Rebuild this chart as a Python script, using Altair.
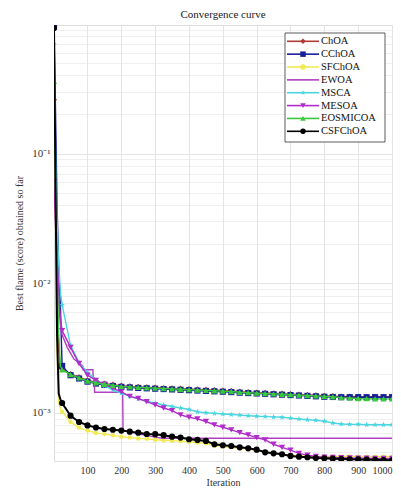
import altair as alt
import pandas as pd

NAMES = ["ChOA", "CChOA", "SFChOA", "EWOA", "MSCA", "MESOA", "EOSMICOA", "CSFChOA"]
COLORS = ["#B23A34", "#16209A", "#F2EA55", "#B040C0", "#4AD6E0", "#B22CCC", "#3CC83C", "#000000"]
STAR = "M0,-1L0.235,-0.324L0.951,-0.309L0.38,0.124L0.588,0.809L0,0.4L-0.588,0.809L-0.38,0.124L-0.951,-0.309L-0.235,-0.324Z"
SHAPES = ["diamond", "square", "circle", "circle", STAR, "triangle-down", "triangle-up", "circle"]

ITER = [1, 5, 10, 15, 20] + list(range(25, 1001, 25))

EOSMICOA = [0.36, 0.06, 1.2e-2, 4e-3, 2.3e-3,
            2.15e-3, 1.97e-3, 1.86e-3, 1.76e-3, 1.70e-3, 1.66e-3, 1.63e-3, 1.60e-3,
            1.585e-3, 1.57e-3, 1.56e-3, 1.55e-3, 1.54e-3, 1.53e-3, 1.52e-3, 1.51e-3,
            1.50e-3, 1.49e-3, 1.48e-3, 1.47e-3, 1.46e-3, 1.44e-3, 1.43e-3, 1.42e-3,
            1.41e-3, 1.40e-3, 1.39e-3, 1.38e-3, 1.37e-3, 1.36e-3, 1.35e-3, 1.34e-3,
            1.33e-3, 1.31e-3, 1.30e-3, 1.29e-3, 1.285e-3, 1.28e-3, 1.28e-3, 1.28e-3]

ChOA = [0.26, 0.04, 8e-3, 3e-3, 2.25e-3,
        2.17e-3, 1.99e-3, 1.88e-3, 1.78e-3, 1.72e-3, 1.68e-3, 1.65e-3, 1.62e-3,
        1.60e-3, 1.585e-3, 1.575e-3, 1.565e-3, 1.555e-3, 1.545e-3, 1.535e-3, 1.525e-3,
        1.515e-3, 1.505e-3, 1.495e-3, 1.485e-3, 1.475e-3, 1.455e-3, 1.445e-3, 1.435e-3,
        1.425e-3, 1.415e-3, 1.405e-3, 1.395e-3, 1.385e-3, 1.375e-3, 1.365e-3, 1.355e-3,
        1.345e-3, 1.335e-3, 1.335e-3, 1.33e-3, 1.33e-3, 1.33e-3, 1.33e-3, 1.33e-3]

CChOA = [0.95, 0.25, 4e-2, 1.3e-2, 6.5e-3,
         2.3e-3, 1.95e-3, 1.84e-3, 1.74e-3, 1.68e-3, 1.64e-3, 1.61e-3, 1.585e-3,
         1.57e-3, 1.555e-3, 1.545e-3, 1.535e-3, 1.525e-3, 1.515e-3, 1.505e-3, 1.495e-3,
         1.485e-3, 1.475e-3, 1.465e-3, 1.455e-3, 1.445e-3, 1.43e-3, 1.42e-3, 1.41e-3,
         1.40e-3, 1.39e-3, 1.38e-3, 1.37e-3, 1.36e-3, 1.35e-3, 1.34e-3, 1.33e-3,
         1.325e-3, 1.32e-3, 1.32e-3, 1.32e-3, 1.32e-3, 1.32e-3, 1.32e-3, 1.32e-3]

SFChOA = [0.6, 0.04, 3e-3, 1.2e-3, 1.08e-3,
          1.02e-3, 8.5e-4, 7.7e-4, 7.3e-4, 7.0e-4, 6.85e-4, 6.7e-4, 6.55e-4,
          6.45e-4, 6.35e-4, 6.3e-4, 6.2e-4, 6.15e-4, 6.1e-4, 6.05e-4, 5.98e-4,
          5.9e-4, 5.82e-4, 5.6e-4, 5.5e-4, 5.42e-4, 5.33e-4, 5.25e-4, 5.12e-4,
          4.97e-4, 4.88e-4, 4.8e-4, 4.7e-4, 4.65e-4, 4.62e-4, 4.6e-4, 4.6e-4,
          4.6e-4, 4.6e-4, 4.6e-4, 4.59e-4, 4.59e-4, 4.58e-4, 4.58e-4, 4.58e-4]

MSCA = [0.7, 0.12, 3e-2, 1.4e-2, 8.5e-3,
        6.8e-3, 3.3e-3, 2.45e-3, 2.05e-3, 1.8e-3, 1.62e-3, 1.5e-3, 1.42e-3,
        1.34e-3, 1.28e-3, 1.23e-3, 1.19e-3, 1.15e-3, 1.12e-3, 1.09e-3, 1.06e-3,
        1.02e-3, 1.0e-3, 9.9e-4, 9.8e-4, 9.7e-4, 9.6e-4, 9.5e-4, 9.4e-4,
        9.35e-4, 9.3e-4, 9.25e-4, 9.1e-4, 8.95e-4, 8.85e-4, 8.75e-4, 8.6e-4,
        8.35e-4, 8.2e-4, 8.15e-4, 8.15e-4, 8.1e-4, 8.1e-4, 8.1e-4, 8.1e-4]

MESOA = [0.061, 0.03, 1.5e-2, 8e-3, 5.3e-3,
         4.3e-3, 3.2e-3, 2.4e-3, 1.95e-3, 1.78e-3, 1.66e-3, 1.55e-3, 1.45e-3,
         1.34e-3, 1.29e-3, 1.22e-3, 1.15e-3, 1.09e-3, 1.04e-3, 9.65e-4, 9.25e-4,
         8.98e-4, 8.57e-4, 8.07e-4, 7.74e-4, 7.38e-4, 7.03e-4, 6.75e-4, 6.44e-4,
         6.18e-4, 5.72e-4, 5.42e-4, 5.16e-4, 4.87e-4, 4.72e-4, 4.6e-4, 4.55e-4,
         4.52e-4, 4.5e-4, 4.48e-4, 4.47e-4, 4.46e-4, 4.45e-4, 4.45e-4, 4.45e-4]

CSFChOA = [0.93, 0.08, 4e-3, 1.4e-3, 1.27e-3,
           1.19e-3, 9.5e-4, 8.5e-4, 8.0e-4, 7.7e-4, 7.5e-4, 7.4e-4, 7.29e-4,
           7.16e-4, 7.03e-4, 6.87e-4, 6.84e-4, 6.72e-4, 6.55e-4, 6.44e-4, 6.25e-4,
           6.18e-4, 6.07e-4, 5.72e-4, 5.62e-4, 5.55e-4, 5.42e-4, 5.32e-4, 5.2e-4,
           4.96e-4, 4.87e-4, 4.79e-4, 4.65e-4, 4.59e-4, 4.54e-4, 4.48e-4, 4.46e-4,
           4.43e-4, 4.40e-4, 4.38e-4, 4.37e-4, 4.35e-4, 4.34e-4, 4.32e-4, 4.31e-4]

EWOA_ITER = [1, 5, 10, 15, 20, 25, 40, 60, 86, 87, 116, 117, 120, 121, 204, 205, 250, 300, 320, 1000]
EWOA = [0.5, 0.07, 1.5e-2, 7e-3, 4.8e-3, 4.0e-3, 3.2e-3, 2.6e-3, 2.3e-3, 2.15e-3,
        2.15e-3, 1.86e-3, 1.86e-3, 1.44e-3, 1.44e-3, 7.3e-4, 6.9e-4, 6.5e-4, 6.37e-4, 6.37e-4]

X_TICKS = list(range(100, 1001, 100))
Y_GRID = [m * d for d in [1e-4, 1e-3, 1e-2, 1e-1] for m in range(1, 10) if 4.25e-4 <= m * d <= 0.98]

series_vals = {"ChOA": ChOA, "CChOA": CChOA, "SFChOA": SFChOA, "MSCA": MSCA,
               "MESOA": MESOA, "EOSMICOA": EOSMICOA, "CSFChOA": CSFChOA}
rows = []
for name in NAMES:
    if name == "EWOA":
        for it, v in zip(EWOA_ITER, EWOA):
            rows.append({"series": name, "iter": it, "val": v, "marker": False})
    else:
        for it, v in zip(ITER, series_vals[name]):
            rows.append({"series": name, "iter": it, "val": v,
                         "marker": (it == 1 or it % 25 == 0)})
df = pd.DataFrame(rows)

FONT = "Liberation Serif"
color_enc = alt.Color("series:N", scale=alt.Scale(domain=NAMES, range=COLORS), legend=None)
shape_enc = alt.Shape("series:N", scale=alt.Scale(domain=NAMES, range=SHAPES), legend=None)

LG = "(log(datum.value)/LN10)"
major_test = f"abs({LG} - round({LG})) < 0.001"
label_expr = (f"{major_test} ? (round({LG}) == -3 ? '10⁻³' : "
              f"(round({LG}) == -2 ? '10⁻²' : (round({LG}) == -1 ? '10⁻¹' : ''))) : ''")

x_axis = alt.Axis(values=X_TICKS, format="d", title="Iteration", grid=True, ticks=False,
                  labelPadding=4, titlePadding=2, labelFontSize=10, titleFontSize=10,
                  labelFont=FONT, titleFont=FONT, titleFontWeight="normal",
                  labelColor="#333", titleColor="#333", gridColor="#e4e4e4",
                  domain=False, labelOverlap=False, labelBound=False)
y_axis = alt.Axis(values=Y_GRID, labelExpr=label_expr, title="Best flame (score) obtained so far",
                  grid=True, ticks=False, labelPadding=4, titlePadding=7,
                  labelFontSize=11, titleFontSize=10, labelFont=FONT, titleFont=FONT,
                  titleFontWeight="normal", labelColor="#333", titleColor="#333",
                  gridColor="#e4e4e4",
                  gridOpacity={"condition": {"test": major_test, "value": 1}, "value": 0.6},
                  domain=False, labelOverlap=False, labelBound=False)
x_enc = alt.X("iter:Q", scale=alt.Scale(domain=[1, 1000], nice=False, zero=False), axis=x_axis)
y_enc = alt.Y("val:Q", scale=alt.Scale(type="log", domain=[4.25e-4, 0.98], nice=False), axis=y_axis)

layers = []
for name in NAMES:
    base = alt.Chart(df).transform_filter(alt.datum.series == name)
    sw = 2.0 if name == "CSFChOA" else 1.4
    layers.append(base.mark_line(strokeWidth=sw, clip=True).encode(
        x=x_enc, y=y_enc, color=color_enc, order="iter:Q"))
    if name != "EWOA":
        size = 20 if name == "SFChOA" else 38
        layers.append(base.transform_filter(alt.datum.marker == True).mark_point(
            filled=True, size=size, opacity=1, clip=True).encode(
            x=x_enc, y=y_enc, color=color_enc, shape=shape_enc))
main = alt.layer(*layers)

leg_df = pd.DataFrame({"series": NAMES})
leg_y = alt.Y("series:N", sort=NAMES,
              scale=alt.Scale(type="point", domain=NAMES, range=[16.3, 106.3], padding=0),
              axis=None)
box = alt.Chart(pd.DataFrame({"a": [0]})).mark_rect(
    fill="white", stroke="#333", strokeWidth=0.8).encode(
    x=alt.value(231), x2=alt.value(331), y=alt.value(8), y2=alt.value(117))
leg_line = alt.Chart(leg_df).mark_rule(strokeWidth=1.6).encode(
    x=alt.value(233), x2=alt.value(265), y=leg_y, color=color_enc)
leg_pts = alt.Chart(leg_df).transform_filter(alt.datum.series != "EWOA").mark_point(
    filled=True, size=30, opacity=1).encode(
    x=alt.value(249), y=leg_y, color=color_enc, shape=shape_enc)
leg_txt = alt.Chart(leg_df).mark_text(
    align="left", baseline="middle", font=FONT, fontSize=10.5, color="#111").encode(
    x=alt.value(267), y=leg_y, text="series:N")
legend = alt.layer(leg_line, leg_pts, leg_txt)

chart = alt.layer(main, box, legend).resolve_scale(
    y="independent").properties(
    width=338, height=436,
    title=alt.TitleParams("Convergence curve", font=FONT, fontSize=11, fontWeight="normal",
                          color="#222", offset=4),
    autosize=alt.AutoSizeParams(type="none"),
    padding={"left": 54, "top": 25, "right": 9, "bottom": 34},
).configure_view(stroke="#555", strokeWidth=1).configure_axis(
    labelFont=FONT, titleFont=FONT).configure(background="white")

chart.save("out.html", embed_options={"renderer": "svg", "actions": False})
